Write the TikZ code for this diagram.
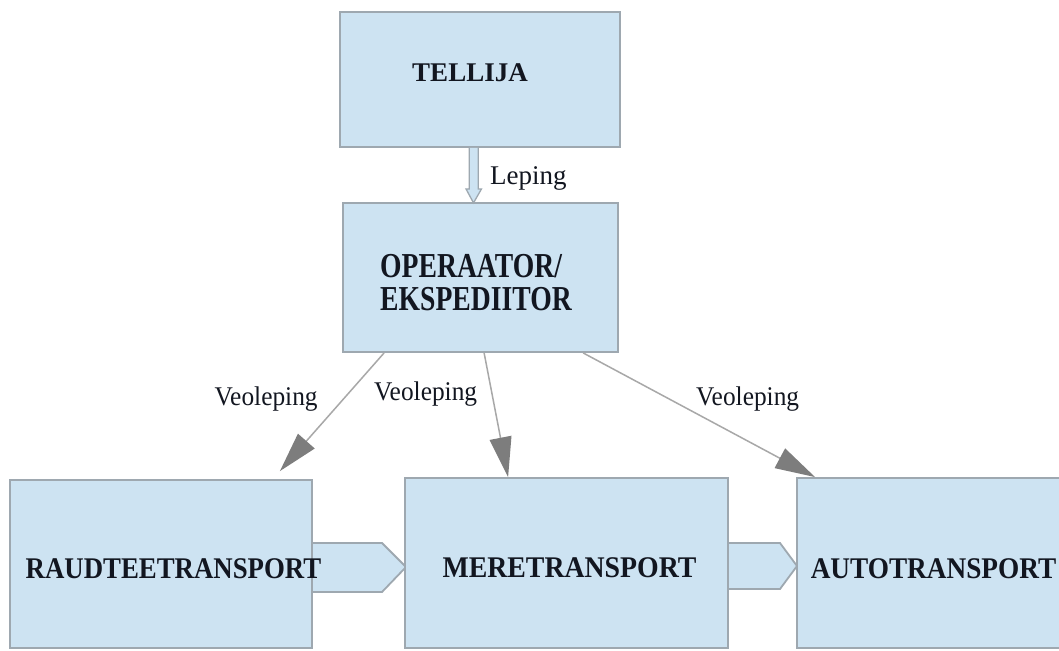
\documentclass[tikz,border=0pt]{standalone}
\usepackage{fontspec}
\setmainfont{Liberation Serif}
\usepackage{graphicx}
\usetikzlibrary{arrows.meta,calc}
\definecolor{boxfill}{RGB}{205,227,242}
\definecolor{boxline}{RGB}{158,168,176}
\definecolor{arrline}{RGB}{168,168,168}
\definecolor{arrhead}{RGB}{125,125,125}
\definecolor{txt}{RGB}{18,22,32}
\begin{document}
\begin{tikzpicture}[x=1pt,y=-1pt,
  box/.style={draw=boxline, fill=boxfill, line width=1.8pt, inner sep=0pt},
  blockarr/.style={draw=boxline, fill=boxfill, line width=1.8pt, line join=miter},
  hollowarr/.style={draw=boxline, fill=boxfill, line width=1.3pt},
  veo/.style={draw=arrline, line width=1.5pt, -{Triangle[length=40pt,width=22pt,fill=arrhead,color=arrhead]}},
  bigtext/.style={inner sep=0pt, anchor=base, text=txt, font=\bfseries\fontsize{30}{30}\selectfont},
  toptext/.style={inner sep=0pt, anchor=base west, text=txt, text height=23pt, text depth=1pt, font=\bfseries\fontsize{35}{35}\selectfont},
  lbl/.style={inner sep=0pt, anchor=base west, text=txt, font=\fontsize{27}{27}\selectfont}
]
\useasboundingbox (0,0) rectangle (1059,650);
\fill[white] (0,0) rectangle (1059,650);
\clip (0,0) rectangle (1059,650);

% block arrows between bottom boxes
\filldraw[blockarr] (312,543) -- (382,543) -- (406,567) -- (382,592) -- (312,592) -- cycle;
\filldraw[blockarr] (728,543) -- (780,543) -- (797,566) -- (780,589) -- (728,589) -- cycle;

% boxes
\node[box, minimum width=280pt, minimum height=135pt] (tellija) at (480,79.5) {};
\node[box, minimum width=275pt, minimum height=149pt] (oper) at (480.5,277.5) {};
\node[box, minimum width=302pt, minimum height=168pt] (raud) at (161,564) {};
\node[box, minimum width=323pt, minimum height=170pt] (mere) at (566.5,563) {};
\node[box, minimum width=283pt, minimum height=170pt] (auto) at (938.5,563) {};

% hollow arrow Tellija -> Operaator
\filldraw[hollowarr] ($(tellija.south)+(-10.7,0)$) -- ($(tellija.south)+(-10.7,41)$)
  -- ($(tellija.south)+(-14,41)$) -- ($(tellija.south)+(-6.5,55)$)
  -- ($(tellija.south)+(1.5,41)$) -- ($(tellija.south)+(-1.7,41)$)
  -- ($(tellija.south)+(-1.7,0)$);

% Veoleping arrows
\draw[veo] ($(oper.south west)+(42,0)$) -- ($(raud.north east)+(-33,-8)$);
\draw[veo] ($(oper.south west)+(142,0)$) -- ($(mere.north west)+(104,0)$);
\draw[veo] ($(oper.south west)+(241,0)$) -- ($(auto.north west)+(19,0)$);

% texts
\node[bigtext, font=\bfseries\fontsize{27}{27}\selectfont] (ttellija) at (470,82) {TELLIJA};
\node[toptext] (toper1) at (380,277) {\scalebox{0.79}[1]{OPERAATOR/}};
\node[toptext] (toper2) at (380,310) {\scalebox{0.79}[1]{EKSPEDIITOR}};
\node[lbl] (tleping) at (490,184) {Leping};
\node[lbl] (tveo1) at (214.5,405) {\scalebox{0.94}[1]{Veoleping}};
\node[lbl] (tveo2) at (374,400) {\scalebox{0.94}[1]{Veoleping}};
\node[lbl] (tveo3) at (696,405) {\scalebox{0.94}[1]{Veoleping}};
\node[bigtext] (traud) at (173.5,578) {\scalebox{0.894}[1]{RAUDTEETRANSPORT}};
\node[bigtext] (tmere) at (569.5,577) {\scalebox{0.927}[1]{MERETRANSPORT}};
\node[bigtext] (tauto) at (933.5,578) {\scalebox{0.909}[1]{AUTOTRANSPORT}};
\end{tikzpicture}
\end{document}
